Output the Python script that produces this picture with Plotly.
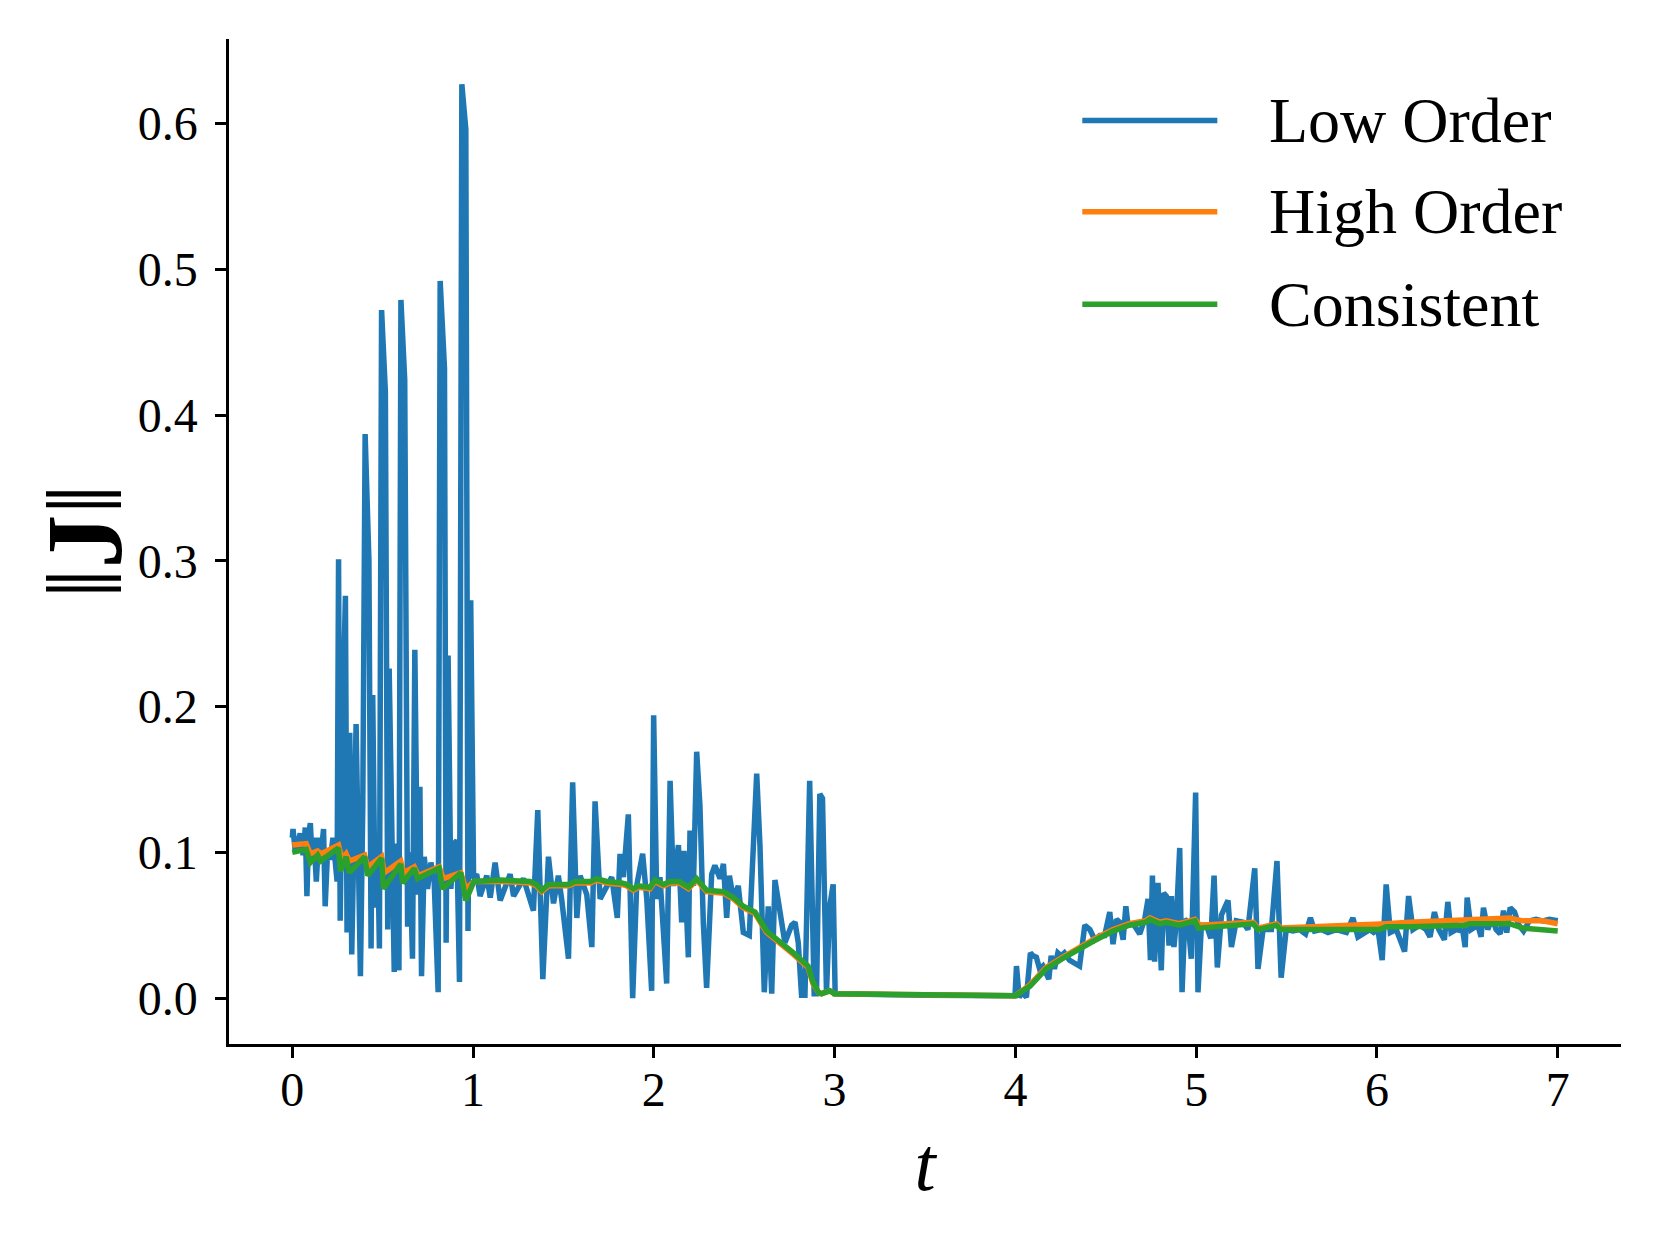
import plotly.graph_objects as go

# ---- data ----
low_t = [0.000, 0.004, 0.017, 0.030, 0.044, 0.060, 0.072, 0.081, 0.090, 0.100,
         0.110, 0.120, 0.133, 0.146, 0.158, 0.173, 0.182, 0.195, 0.210, 0.225,
         0.238, 0.248, 0.256, 0.265, 0.281, 0.294, 0.303, 0.318, 0.329, 0.340,
         0.353, 0.377, 0.390, 0.403, 0.424, 0.436, 0.445, 0.458, 0.473, 0.482,
         0.494, 0.515, 0.528, 0.536, 0.550, 0.564, 0.577, 0.590, 0.601, 0.622,
         0.638, 0.650, 0.665, 0.678, 0.693, 0.706, 0.715, 0.730, 0.748, 0.767,
         0.785, 0.807, 0.818, 0.842, 0.851, 0.862, 0.877, 0.895, 0.910, 0.925,
         0.938, 0.960, 0.972, 0.987, 1.003, 1.020,
         1.039, 1.076, 1.095, 1.122, 1.150, 1.205, 1.224, 1.279, 1.334, 1.358,
         1.386, 1.417, 1.445, 1.472, 1.491, 1.528, 1.551, 1.574, 1.592, 1.629,
         1.657, 1.675, 1.703, 1.739, 1.767, 1.798, 1.813, 1.832, 1.859, 1.883,
         1.905, 1.938, 1.961, 1.988, 1.999, 2.016, 2.034, 2.071, 2.090, 2.108,
         2.136, 2.154, 2.167, 2.191, 2.200, 2.219, 2.237, 2.255, 2.274, 2.292,
         2.320, 2.338, 2.366, 2.385, 2.403, 2.418, 2.440, 2.467, 2.495, 2.528,
         2.569, 2.587, 2.611, 2.633, 2.652, 2.670, 2.698, 2.725, 2.762, 2.781,
         2.799, 2.817, 2.836, 2.862, 2.887, 2.900, 2.918, 2.933, 2.955, 2.973,
         2.992, 3.003, 3.500, 3.998,
         4.006, 4.021, 4.039, 4.061, 4.083, 4.098, 4.116, 4.134, 4.152, 4.185,
         4.198, 4.216, 4.235, 4.253, 4.271, 4.299, 4.327, 4.355, 4.384, 4.412,
         4.439, 4.467, 4.494, 4.522, 4.540, 4.559, 4.577, 4.596, 4.611, 4.623,
         4.651, 4.688, 4.715, 4.734, 4.747, 4.758, 4.770, 4.789, 4.807, 4.820,
         4.835, 4.850, 4.863, 4.877, 4.890, 4.909, 4.922, 4.937, 4.955, 4.973,
         4.997, 5.010, 5.029, 5.057, 5.081, 5.099, 5.117, 5.140, 5.176, 5.195,
         5.222, 5.259, 5.286, 5.324, 5.342, 5.370, 5.416, 5.447, 5.470, 5.498,
         5.535, 5.572, 5.605, 5.632, 5.655, 5.692, 5.729, 5.775, 5.831, 5.867,
         5.895, 5.932, 5.960, 5.982, 6.006, 6.029, 6.051, 6.074, 6.107, 6.153,
         6.175, 6.199, 6.236, 6.272, 6.294, 6.318, 6.342, 6.373, 6.392, 6.410,
         6.438, 6.475, 6.488, 6.499, 6.521, 6.558, 6.576, 6.589, 6.613, 6.637,
         6.659, 6.682, 6.700, 6.718, 6.737, 6.761, 6.785, 6.811, 6.843, 6.880,
         6.917, 6.954, 7.000]
low_val = [0.110, 0.116, 0.100, 0.105, 0.113, 0.098, 0.117, 0.070, 0.112, 0.120,
           0.095, 0.110, 0.080, 0.110, 0.097, 0.116, 0.063, 0.100, 0.095, 0.110,
           0.097, 0.080, 0.301, 0.053, 0.204, 0.276, 0.045, 0.182, 0.030, 0.120,
           0.188, 0.015, 0.132, 0.387, 0.300, 0.034, 0.208, 0.062, 0.101, 0.034,
           0.472, 0.416, 0.047, 0.226, 0.097, 0.018, 0.106, 0.019, 0.479, 0.424,
           0.049, 0.100, 0.027, 0.239, 0.071, 0.145, 0.015, 0.097, 0.075, 0.093,
           0.080, 0.004, 0.492, 0.432, 0.038, 0.235, 0.075, 0.106, 0.108, 0.011,
           0.627, 0.596, 0.046, 0.273, 0.082, 0.085,
           0.070, 0.084, 0.069, 0.093, 0.067, 0.085, 0.070, 0.082, 0.060, 0.129,
           0.013, 0.097, 0.065, 0.084, 0.067, 0.027, 0.148, 0.055, 0.084, 0.071,
           0.035, 0.135, 0.068, 0.077, 0.083, 0.055, 0.099, 0.083, 0.126, 0.000,
           0.077, 0.099, 0.068, 0.005, 0.194, 0.068, 0.083, 0.010, 0.149, 0.077,
           0.105, 0.052, 0.101, 0.028, 0.115, 0.077, 0.169, 0.132, 0.051, 0.007,
           0.085, 0.091, 0.082, 0.092, 0.055, 0.084, 0.068, 0.077, 0.045, 0.043,
           0.154, 0.105, 0.004, 0.063, 0.003, 0.081, 0.059, 0.038, 0.050, 0.052,
           0.038, 0.002, 0.002, 0.149, 0.003, 0.003, 0.140, 0.137, 0.004, 0.063,
           0.078, 0.003, 0.002, 0.0016,
           0.022, 0.0005, 0.004, 0.0005, 0.031, 0.029, 0.028, 0.020, 0.022, 0.013,
           0.029, 0.020, 0.031, 0.029, 0.031, 0.026, 0.024, 0.022, 0.050, 0.047,
           0.040, 0.043, 0.043, 0.059, 0.037, 0.054, 0.052, 0.040, 0.063, 0.050,
           0.051, 0.044, 0.054, 0.068, 0.026, 0.084, 0.025, 0.079, 0.019, 0.072,
           0.070, 0.036, 0.070, 0.035, 0.052, 0.103, 0.004, 0.054, 0.052, 0.027,
           0.141, 0.004, 0.050, 0.050, 0.041, 0.084, 0.021, 0.057, 0.067, 0.035,
           0.053, 0.052, 0.047, 0.089, 0.020, 0.047, 0.047, 0.094, 0.014, 0.047,
           0.046, 0.047, 0.044, 0.055, 0.046, 0.047, 0.045, 0.047, 0.045, 0.055,
           0.042, 0.045, 0.047, 0.045, 0.047, 0.026, 0.078, 0.045, 0.047, 0.032,
           0.070, 0.047, 0.050, 0.047, 0.042, 0.059, 0.047, 0.040, 0.066, 0.045,
           0.047, 0.046, 0.035, 0.069, 0.047, 0.050, 0.042, 0.062, 0.047, 0.055,
           0.047, 0.044, 0.060, 0.045, 0.062, 0.059, 0.050, 0.046, 0.053, 0.054,
           0.053, 0.054, 0.053]

high_t = [0.000, 0.077, 0.100, 0.140, 0.160, 0.256, 0.274, 0.298, 0.316, 0.400,
          0.417, 0.494, 0.509, 0.600, 0.616, 0.675, 0.697, 0.812, 0.836, 0.932,
          0.960, 1.005, 1.150, 1.316, 1.350, 1.380, 1.417, 1.528, 1.565, 1.650,
          1.684, 1.739, 1.822, 1.850, 1.887, 1.914, 1.979, 2.007, 2.053, 2.090,
          2.141, 2.191, 2.237, 2.292, 2.385, 2.440, 2.495, 2.560, 2.624, 2.698,
          2.772, 2.808, 2.853, 2.880, 2.910, 2.927, 2.973, 3.000, 3.500, 3.998,
          4.080, 4.170, 4.260, 4.355, 4.430, 4.540, 4.630, 4.720, 4.744, 4.800,
          4.835, 4.906, 4.994, 5.020, 5.315, 5.342, 5.443, 5.470, 6.014, 6.051,
          6.180, 6.493, 6.733, 6.807, 6.917, 7.000]
high_val = [0.105, 0.106, 0.099, 0.101, 0.099, 0.105, 0.095, 0.099, 0.094, 0.098,
            0.090, 0.097, 0.086, 0.094, 0.086, 0.090, 0.084, 0.090, 0.082, 0.086,
            0.075, 0.080, 0.080, 0.079, 0.077, 0.073, 0.077, 0.077, 0.079, 0.079,
            0.081, 0.079, 0.078, 0.077, 0.074, 0.076, 0.075, 0.080, 0.077, 0.079,
            0.079, 0.075, 0.081, 0.073, 0.072, 0.068, 0.062, 0.058, 0.045, 0.038,
            0.030, 0.026, 0.021, 0.010, 0.004, 0.003, 0.005, 0.003, 0.002, 0.0016,
            0.009, 0.021, 0.028, 0.035, 0.040, 0.047, 0.051, 0.053, 0.055, 0.052,
            0.053, 0.051, 0.054, 0.050, 0.052, 0.048, 0.051, 0.048, 0.050, 0.051,
            0.052, 0.054, 0.055, 0.053, 0.053, 0.051]

cons_t = [0.000, 0.077, 0.100, 0.140, 0.156, 0.255, 0.267, 0.298, 0.316, 0.400,
          0.417, 0.494, 0.504, 0.600, 0.610, 0.675, 0.693, 0.812, 0.831, 0.932,
          0.960, 1.005, 1.150, 1.316, 1.350, 1.380, 1.417, 1.528, 1.565, 1.650,
          1.684, 1.739, 1.822, 1.850, 1.887, 1.914, 1.979, 2.007, 2.053, 2.090,
          2.141, 2.191, 2.237, 2.292, 2.385, 2.440, 2.495, 2.560, 2.624, 2.698,
          2.772, 2.808, 2.853, 2.880, 2.910, 2.927, 2.973, 3.000, 3.500, 3.998,
          4.080, 4.170, 4.260, 4.355, 4.430, 4.540, 4.630, 4.720, 4.744, 4.800,
          4.835, 4.906, 4.994, 5.012, 5.093, 5.167, 5.315, 5.342, 5.443, 5.470,
          6.014, 6.051, 6.180, 6.493, 6.510, 6.733, 6.807, 7.000]
cons_val = [0.100, 0.102, 0.093, 0.098, 0.094, 0.103, 0.087, 0.097, 0.086, 0.097,
            0.084, 0.096, 0.075, 0.092, 0.079, 0.089, 0.082, 0.089, 0.075, 0.086,
            0.067, 0.080, 0.081, 0.080, 0.078, 0.074, 0.078, 0.078, 0.080, 0.080,
            0.082, 0.080, 0.079, 0.078, 0.075, 0.077, 0.076, 0.081, 0.078, 0.080,
            0.080, 0.076, 0.082, 0.074, 0.073, 0.069, 0.063, 0.059, 0.046, 0.039,
            0.031, 0.027, 0.022, 0.011, 0.004, 0.003, 0.005, 0.003, 0.002, 0.0016,
            0.008, 0.020, 0.027, 0.034, 0.039, 0.046, 0.050, 0.052, 0.054, 0.051,
            0.052, 0.050, 0.053, 0.048, 0.049, 0.050, 0.051, 0.047, 0.050, 0.047,
            0.047, 0.049, 0.049, 0.050, 0.051, 0.051, 0.048, 0.046]

series = [
    ("Low Order", low_t, low_val, "#1f77b4"),
    ("High Order", high_t, high_val, "#ff7f0e"),
    ("Consistent", cons_t, cons_val, "#2ca02c"),
]

x_ticks = [0, 1, 2, 3, 4, 5, 6, 7]
y_ticks = [0.0, 0.1, 0.2, 0.3, 0.4, 0.5, 0.6]

SERIF = "Liberation Serif"
LW = 5.5

fig = go.Figure()
for name, t, v, color in series:
    fig.add_trace(go.Scatter(
        x=t, y=v, mode="lines", name=name,
        line=dict(color=color, width=LW),
        showlegend=False,
    ))

# matplotlib-like legend drawn by hand (long line samples)
legend_y = [0.919, 0.828, 0.736]
for (name, _, _, color), ly in zip(series, legend_y):
    fig.add_shape(type="line", xref="paper", yref="paper",
                  x0=0.613, x1=0.710, y0=ly, y1=ly,
                  line=dict(color=color, width=LW))
    fig.add_annotation(text=name, xref="paper", yref="paper",
                       x=0.746, y=ly, xanchor="left", yanchor="middle",
                       showarrow=False, font=dict(family=SERIF, size=64, color="black"))

# y-axis label, rotated like matplotlib's
fig.add_annotation(text="‖<b>J</b>‖", xref="paper", yref="paper",
                   x=-0.104, y=0.5, xanchor="center", yanchor="middle",
                   textangle=-90, showarrow=False,
                   font=dict(family=SERIF, size=108, color="black"))

axis_common = dict(
    showline=True, linecolor="black", linewidth=2.5,
    ticks="outside", ticklen=11, tickwidth=2.5, tickcolor="black",
    showgrid=False, zeroline=False, mirror=False,
    tickfont=dict(family=SERIF, size=48, color="black"),
)

fig.update_xaxes(
    range=[-0.35, 7.35], tickvals=x_ticks, ticktext=[str(v) for v in x_ticks],
    title=dict(text="<i>t</i>", font=dict(family=SERIF, size=76, color="black"), standoff=22),
    ticklabelstandoff=-9,
    **axis_common,
)
fig.update_yaxes(
    range=[-0.0315, 0.658], tickvals=y_ticks, ticktext=[f"{v:.1f}" for v in y_ticks],
    ticklabelstandoff=8,
    **axis_common,
)

# page body adds an 8px offset, so margins are trimmed to land the axes where the reference has them
fig.update_layout(
    width=1660, height=1245,
    margin=dict(l=221, r=47, t=31, b=209),
    paper_bgcolor="white", plot_bgcolor="white",
    font=dict(family=SERIF, color="black"),
)

fig.write_html("out.html")
